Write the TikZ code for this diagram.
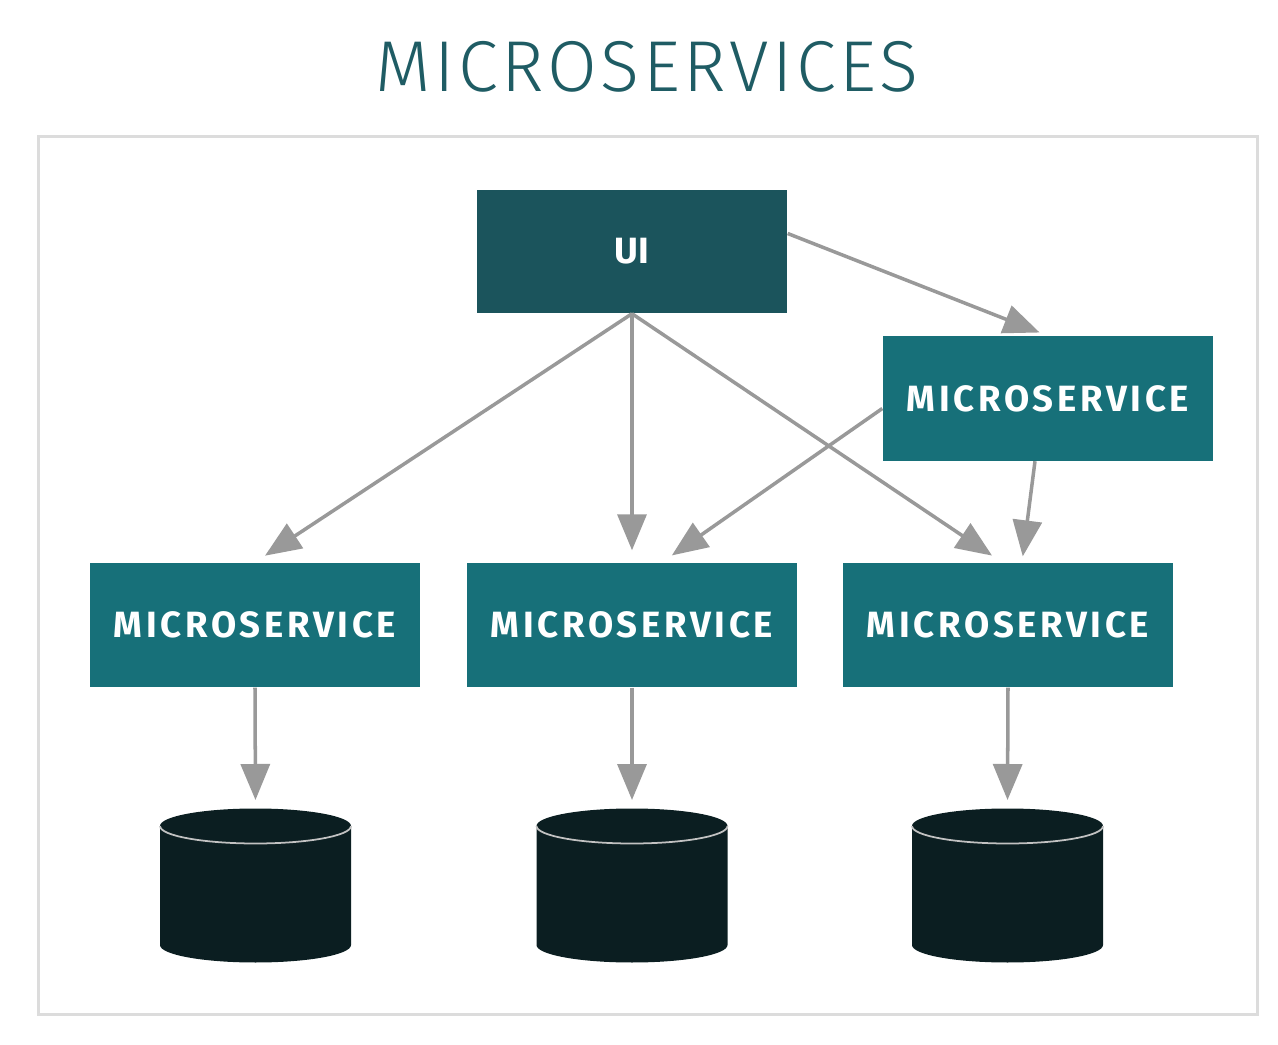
\documentclass[tikz,border=0pt]{standalone}
\usepackage{fontspec}
\usepackage{tikz}
\usetikzlibrary{arrows.meta,positioning}
\newfontfamily\titlefont[LetterSpace=5]{Fira Sans Light}
\newfontfamily\boxfont[LetterSpace=10]{Fira Sans Bold}
\newfontfamily\uifont{Fira Sans Bold}
\definecolor{msteal}{RGB}{23,112,121}
\definecolor{msdark}{RGB}{27,84,92}
\definecolor{msdb}{RGB}{11,30,33}
\definecolor{mstitle}{RGB}{31,92,100}
\definecolor{msgray}{RGB}{153,153,153}
\definecolor{msframe}{RGB}{220,220,220}

\begin{document}
\begin{tikzpicture}[
  svcnode/.style={fill=msteal, text=white, font=\boxfont\fontsize{10.4}{12}\selectfont,
    minimum width=3.3cm, minimum height=1.24cm, inner sep=0pt},
  arr/.style={-{Triangle[length=3.6mm,width=2.9mm]}, draw=msgray, fill=msgray,
    line width=1pt, shorten >=1.2mm}]
\useasboundingbox (0,0) rectangle (12.78,10.44);
% Title and frame
\node[text=mstitle, font=\titlefont\fontsize{20.5}{24}\selectfont] (title) at (6.47,9.77) {MICROSERVICES};
\draw[msframe, line width=0.03cm] (0.38,0.30) rectangle (12.57,9.07);
% Nodes
\node[svcnode, fill=msdark, font=\uifont\fontsize{10.4}{12}\selectfont,
  minimum width=3.1cm, minimum height=1.23cm] (ui) at (6.32,7.925) {UI};
\node[svcnode] (msr) at (10.48,6.455) {MICROSERVICE};
\node[svcnode] (ms1) at (2.55,4.19) {MICROSERVICE};
\node[svcnode] (ms2) at (6.32,4.19) {MICROSERVICE};
\node[svcnode] (ms3) at (10.08,4.19) {MICROSERVICE};
% Databases
\foreach \i/\cx in {1/2.555, 2/6.32, 3/10.075} {
  \fill[msdb] (\cx-0.955,2.18) -- (\cx-0.955,0.99) arc (180:360:0.955 and 0.175)
    -- (\cx+0.955,2.18) arc (0:180:0.955 and 0.175) -- cycle;
  \draw[msgray!60, line width=0.5pt] (\cx-0.955,2.18) arc (180:360:0.955 and 0.175);
  \coordinate (db\i) at (\cx,2.36);
}
% Arrows
\draw[arr] (ui.south) -- (ms1.north);
\draw[arr] (ui.south) -- (ms2.north);
\draw[arr] (ui.south) -- ([xshift=-0.06cm]ms3.north);
\draw[arr, shorten >=0.9mm] ([yshift=0.18cm]ui.east) -- (msr.north);
\draw[arr] ([yshift=-0.1cm]msr.west) -- ([xshift=0.3cm]ms2.north);
\draw[arr, shorten >=0.6mm] ([xshift=-0.13cm]msr.south) -- ([xshift=0.14cm]ms3.north);
\draw[arr, shorten >=0.8mm] (ms1.south) -- (db1);
\draw[arr, shorten >=0.8mm] (ms2.south) -- (db2);
\draw[arr, shorten >=0.8mm] (ms3.south) -- (db3);
\end{tikzpicture}
\end{document}
